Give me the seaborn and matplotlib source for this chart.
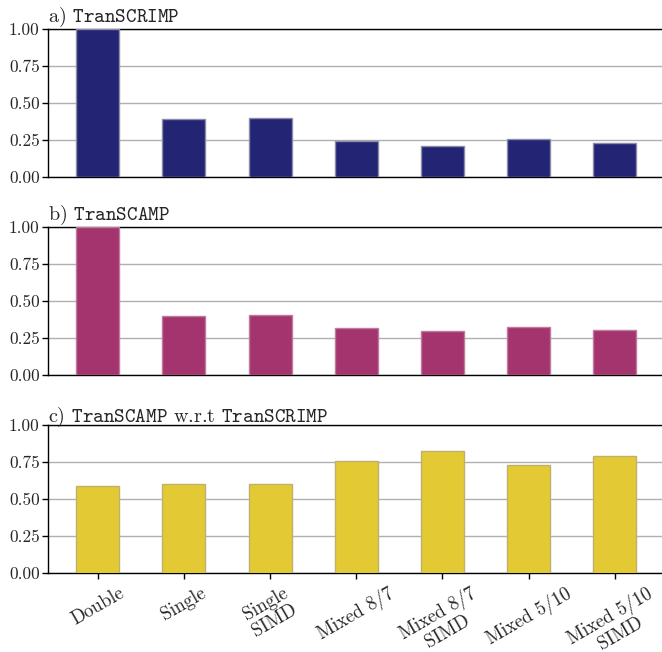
import matplotlib
matplotlib.use("Agg")
import matplotlib.pyplot as plt
import seaborn as sns
import pandas as pd

categories = ["Double", "Single", "Single\nSIMD", "Mixed 8/7", "Mixed 8/7\nSIMD",
              "Mixed 5/10", "Mixed 5/10\nSIMD"]
transcrimp = [1.00, 0.395, 0.40, 0.245, 0.21, 0.26, 0.227]
transcamp = [1.00, 0.397, 0.403, 0.315, 0.297, 0.324, 0.304]
ratio = [0.59, 0.598, 0.598, 0.76, 0.822, 0.73, 0.792]
titles = [r"a) $\mathtt{TranSCRIMP}$",
          r"b) $\mathtt{TranSCAMP}$",
          r"c) $\mathtt{TranSCAMP}$ w.r.t $\mathtt{TranSCRIMP}$"]
colors = ["#232574", "#a3346e", "#e3c933"]
edges = ["#8c8ca8", "#c07a9c", "#bfb070"]
yticks = [0.0, 0.25, 0.5, 0.75, 1.0]

sns.set_theme(style="white")
plt.rcParams.update({
    "font.family": "serif",
    "font.serif": ["cmr10", "DejaVu Serif"],
    "mathtext.fontset": "cm",
    "axes.formatter.use_mathtext": True,
    "axes.unicode_minus": False,
})

fig = plt.figure(figsize=(6.62, 6.52), dpi=100)
left, width, height = 48 / 662, 1 - 48 / 662, 148 / 652
tops = [29, 227, 425]

series = [transcrimp, transcamp, ratio]
for i, (vals, title, col, ec) in enumerate(zip(series, titles, colors, edges)):
    ax = fig.add_axes([left, 1 - (tops[i] + 148) / 652, width, height])
    df = pd.DataFrame({"cat": categories, "val": vals})
    sns.barplot(data=df, x="cat", y="val", color=col, saturation=1, width=0.5,
                edgecolor=ec, linewidth=1.0, ax=ax, zorder=3)
    ax.set_xlim(-0.577, 6.547)
    ax.set_ylim(0, 1.0)
    ax.set_yticks(yticks)
    ax.set_yticklabels([f"{t:.2f}" for t in yticks], fontsize=12.5)
    ax.yaxis.grid(True, color="#b0b0b0", linewidth=1.0, zorder=0)
    ax.set_axisbelow(True)
    ax.set_xlabel("")
    ax.set_ylabel("")
    for s in ["left", "bottom", "top"]:
        ax.spines[s].set_visible(True)
        ax.spines[s].set_color("black")
        ax.spines[s].set_linewidth(1.0)
    ax.spines["right"].set_visible(False)
    ax.tick_params(axis="y", left=True, length=4, width=1, color="black", pad=2)
    ax.set_title(title, loc="left", fontsize=14.5, pad=2)
    if i < 2:
        ax.tick_params(axis="x", bottom=False, labelbottom=False)
    else:
        ax.tick_params(axis="x", bottom=True, length=4, width=1, color="black", pad=4)
        ax.set_xticks(range(len(categories)))
        ax.set_xticklabels(categories, rotation=30, ha="center", fontsize=13.5,
                           multialignment="center", linespacing=1.05)

fig.savefig("out.png", dpi=100)
